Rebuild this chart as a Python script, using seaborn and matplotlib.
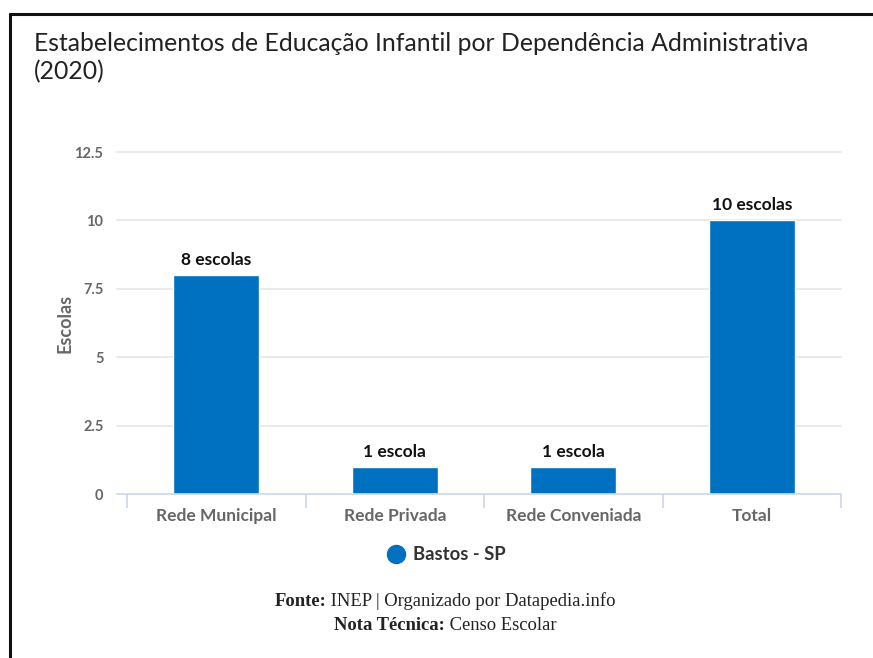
import matplotlib
matplotlib.use("Agg")
import matplotlib.pyplot as plt
from matplotlib.lines import Line2D
import seaborn as sns
import pandas as pd

categories = ["Rede Municipal", "Rede Privada", "Rede Conveniada", "Total"]
escolas = [8, 1, 1, 10]
value_labels = ["8 escolas", "1 escola", "1 escola", "10 escolas"]
y_ticks = [0, 2.5, 5, 7.5, 10, 12.5]
y_tick_labels = ["0", "2.5", "5", "7.5", "10", "12.5"]
series_name = "Bastos - SP"

BLUE = "#0070c0"
GRID = "#e6e6e6"
AXIS = "#ccd6eb"
GREY = "#666666"

sns.set_theme(style="white")
plt.rcParams["font.family"] = ["Lato", "DejaVu Sans"]

W, H = 873, 658
fig = plt.figure(figsize=(W / 100, H / 100), dpi=100)

def fx(px):
    return px / W

def fy(py):
    return 1 - py / H

ax = fig.add_axes([fx(127), fy(494), fx(841) - fx(127), fy(152) - fy(494)])

df = pd.DataFrame({"categoria": categories, "escolas": escolas})
sns.barplot(data=df, x="categoria", y="escolas", color=BLUE, saturation=1,
            width=0.48, ax=ax, zorder=3)

ax.set_xlim(-0.5, len(categories) - 0.5)
ax.set_ylim(0, 12.5)
for sp in ["top", "right", "left", "bottom"]:
    ax.spines[sp].set_visible(False)

# horizontal grid, extending slightly left of the plot area
ext = 10 / (841 - 127)
for y in y_ticks:
    color = AXIS if y == 0 else GRID
    ax.axhline(y, xmin=-ext, xmax=1, color=color, lw=1.2, clip_on=False, zorder=1 if y else 4)

ax.set_yticks(y_ticks)
ax.set_yticklabels(y_tick_labels)
ax.tick_params(axis="y", length=0, pad=17, labelsize=10.5, labelcolor=GREY)
for t in ax.get_yticklabels():
    t.set_fontweight("bold")

ax.set_xticks(range(len(categories)))
ax.set_xticklabels(categories)
ax.tick_params(axis="x", which="major", length=0, pad=10, labelsize=12.5, labelcolor=GREY)
for t in ax.get_xticklabels():
    t.set_fontweight("bold")
ax.set_xticks([i - 0.5 for i in range(len(categories) + 1)], minor=True)
ax.tick_params(axis="x", which="minor", bottom=True, length=10, width=1.2,
               color=AXIS, direction="out")

ax.set_xlabel("")
ax.set_ylabel("Escolas", fontsize=13, fontweight="bold", color=GREY, labelpad=1)

for i, (v, lab) in enumerate(zip(escolas, value_labels)):
    ax.annotate(lab, (i, v), xytext=(0, 5), textcoords="offset points",
                ha="center", va="bottom", fontsize=12.5, fontweight="bold",
                color="#111111", zorder=5)

# title
fig.text(fx(34), fy(32), "Estabelecimentos de Educação Infantil por Dependência Administrativa\n(2020)",
         ha="left", va="top", fontsize=17.8, color="#222222", linespacing=1.25)

# legend
handle = Line2D([], [], marker="o", linestyle="none", markersize=13,
                markerfacecolor=BLUE, markeredgecolor=BLUE)
leg = fig.legend([handle], [series_name], loc="center", bbox_to_anchor=(fx(445), fy(555)),
                 frameon=False, handletextpad=0.3, handlelength=1.2,
                 prop={"weight": "bold", "size": 13.3})
for t in leg.get_texts():
    t.set_color("#333333")

# source notes: bold prefix followed by regular text, centred as a whole
fig.canvas.draw()
renderer = fig.canvas.get_renderer()
notes = [("Fonte:", " INEP | Organizado por Datapedia.info", 601),
         ("Nota Técnica:", " Censo Escolar", 626)]
serif = ["Liberation Serif", "DejaVu Serif"]
for bold, rest, ypx in notes:
    t1 = fig.text(0, fy(ypx), bold, family=serif, fontsize=13.4, fontweight="bold",
                  color="#222222", va="center", ha="left")
    t2 = fig.text(0, fy(ypx), rest, family=serif, fontsize=13.4,
                  color="#222222", va="center", ha="left")
    w1 = t1.get_window_extent(renderer).width
    w2 = t2.get_window_extent(renderer).width
    x0 = 445 - (w1 + w2) / 2
    t1.set_x(fx(x0))
    t2.set_x(fx(x0 + w1))

# outer frame (top and left edges visible)
fig.add_artist(Line2D([fx(10), 1], [fy(14), fy(14)], color="#111111", lw=2.2))
fig.add_artist(Line2D([fx(10), fx(10)], [fy(14), 0], color="#111111", lw=2.2))

fig.savefig("out.png", dpi=100)
